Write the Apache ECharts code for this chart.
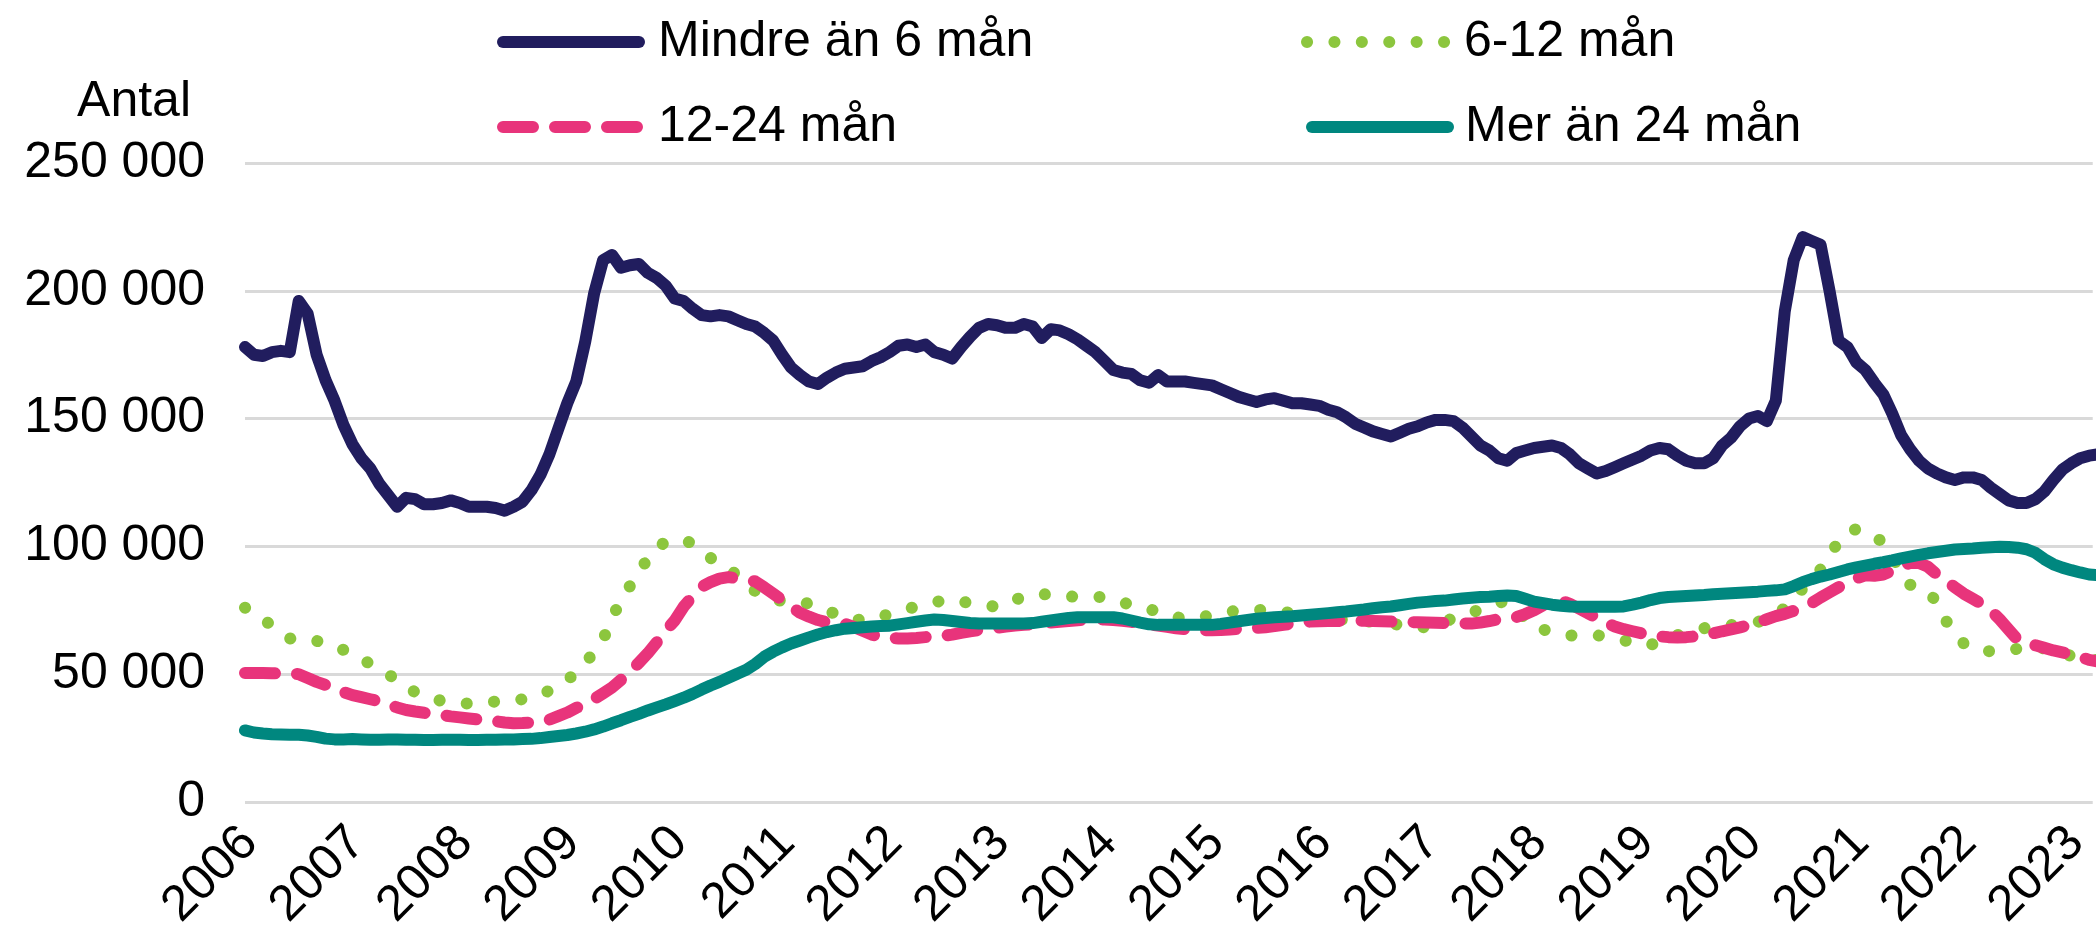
<!DOCTYPE html>
<html>
<head>
<meta charset="utf-8">
<script src="https://cdn.jsdelivr.net/npm/echarts@6/dist/echarts.min.js"></script>
<style>html,body{margin:0;padding:0;background:#fff}#c{width:2096px;height:948px}</style>
</head>
<body>
<div id="c"></div>
<script>
// ---- data (monthly, Jan 2006 .. Apr 2023) ----
const startYear = 2006;
const seriesNames = ['Mindre än 6 mån', '6-12 mån', '12-24 mån', 'Mer än 24 mån'];
const yTickValues = [0, 50000, 100000, 150000, 200000, 250000];
const yAxisTitle = 'Antal';

const mindre6 = [
178000,175000,174500,176000,176500,176000,196000,191000,175000,165000,157000,147500,
140000,134500,130500,124500,120000,115500,119000,118500,116500,116500,117000,118000,
117000,115500,115500,115500,115000,114000,115500,117500,122000,128000,136000,146000,
156000,164500,180000,199000,212000,214000,209000,210000,210500,207000,205000,202000,
197000,196000,193000,190500,190000,190500,190000,188500,187000,186000,183500,180500,
175000,170000,167000,164500,163500,166000,168000,169500,170000,170500,172500,174000,
176000,178500,179000,178000,179000,176000,175000,173500,178000,182000,185500,187000,
186500,185500,185500,187000,186000,181500,185000,184500,183000,181000,178500,176000,
172500,169000,168000,167500,165000,164000,167000,164500,164500,164500,164000,163500,
163000,161500,160000,158500,157500,156500,157500,158000,157000,156000,156000,155500,
155000,153500,152500,150500,148000,146500,145000,144000,143000,144500,146000,147000,
148500,149500,149500,149000,146500,143000,139500,137500,134500,133500,136500,137500,
138500,139000,139500,138500,136000,132500,130500,128500,129500,131000,132500,134000,
135500,137500,138500,138000,135500,133500,132500,132500,134500,139500,142500,147000,
150000,151000,149000,157000,192000,212000,221000,219500,218000,200000,180500,178000,
172000,169000,164000,159500,152000,143500,138000,133500,130500,128500,127000,126000,
127000,127000,126000,123000,120500,118000,117000,117000,118500,121500,126000,130000,
132500,134500,135500,136000
];
const man6_12 = [
76000,74000,71500,69000,66500,64000,63000,63000,63000,62500,61000,59500,
58000,56000,54000,52000,50000,47500,45000,43000,41500,40500,39500,39000,
38500,38500,38500,39000,39300,39500,39800,40200,41000,42300,43500,46000,
47500,51000,54500,58500,63500,72000,79000,84500,90500,95000,100000,101500,
102500,102700,101000,98000,95500,93500,91500,88500,85000,82500,80500,79000,
78800,78800,78500,77500,76000,75000,73500,72000,71400,71200,71400,72500,
73500,74400,75500,76500,77200,78000,79000,79200,78500,77800,77200,76800,
76400,77000,79000,80500,81000,81200,81300,81000,80500,80200,80200,80200,
80200,79500,78200,77000,76000,75300,74700,73500,72300,71800,72000,72500,
73000,73800,74500,74800,75000,75200,75000,74700,74300,74000,73500,73000,
72500,72000,71500,71200,71000,70700,70500,70200,69800,69300,68700,68200,
68500,69500,70500,72000,73000,74000,75500,77000,78000,78500,76000,71500,
68000,67500,66500,65800,65200,65000,65000,65200,64800,64000,63300,62300,
61200,61500,62500,64000,65300,66300,67200,68000,68700,69000,69200,69300,
69800,70500,71200,73000,76000,79500,83500,87500,91000,95500,102500,105500,
106800,106000,104000,101500,96000,90000,85000,83500,82500,78000,71000,65500,
62000,60000,59100,59000,59000,59100,60000,60700,61000,60000,59000,58000,
57200,56700,56000,55500
];
const man12_24 = [
50500,50500,50500,50400,50300,50200,50000,48500,47000,45800,44500,43000,
41800,41000,40200,39400,38200,37000,36000,35400,34900,34400,34000,33500,
33100,32700,32300,32000,31600,31100,30800,30900,31100,31400,32200,33600,
35000,36800,38500,40300,42500,44800,47800,50900,54500,58200,62500,67000,
71000,76400,80500,84200,86000,87400,88000,87500,87000,86300,84000,81500,
79000,76500,74000,72500,71200,70300,70000,69700,68500,67000,65500,64700,
64200,64000,64000,64200,64500,64800,65000,65500,66200,66800,67300,67800,
68200,68600,69000,69300,69600,69900,70200,70500,70800,71100,71300,71400,
71400,71200,70900,70500,70000,69500,69000,68500,68000,67600,67300,67200,
67200,67300,67500,67700,67900,68100,68400,68800,69300,69800,70200,70600,
70700,70800,70800,70900,70900,70900,70800,70700,70600,70500,70400,70300,
70200,70100,70000,69900,69800,69800,70200,70800,71500,72000,72300,73500,
75000,77000,78300,78800,77500,75700,73900,72000,70200,68700,67600,66800,
66000,65300,64800,64500,64400,64500,64800,65400,66000,66800,67500,68300,
69200,70300,71500,72700,73600,74800,76000,77800,80000,82000,84000,85800,
87500,88700,88500,89000,90500,92500,93500,93500,92000,89000,86500,84000,
81500,79500,77500,75000,71500,67500,63500,62000,61300,60300,59300,58500,
57700,56800,55600,55000
];
const mer24 = [
28000,27200,26800,26500,26400,26300,26300,26000,25500,24800,24500,24500,
24600,24500,24400,24400,24500,24500,24400,24400,24300,24300,24400,24400,
24400,24300,24300,24400,24400,24500,24500,24600,24700,25000,25400,25800,
26200,26800,27500,28400,29500,30800,32000,33300,34500,35800,37000,38200,
39500,40800,42300,44000,45600,47000,48600,50200,51700,54000,56800,58800,
60500,62000,63200,64400,65500,66500,67200,67800,68100,68400,68700,68900,
69000,69500,70000,70500,71000,71400,71200,70800,70400,70000,69800,69800,
69800,69800,69800,69800,70000,70500,71000,71500,72000,72300,72300,72300,
72300,72300,71800,71000,70200,69500,69300,69300,69300,69300,69300,69300,
69300,69700,70200,70700,71200,71700,72000,72300,72500,72700,73000,73300,
73600,73900,74200,74500,74900,75300,75800,76200,76500,77000,77500,78000,
78300,78600,78800,79200,79600,79900,80200,80300,80600,80800,80600,79500,
78400,77800,77200,76800,76500,76400,76400,76400,76400,76400,76500,77200,
78000,79000,79800,80200,80400,80600,80800,81000,81300,81500,81700,81900,
82100,82300,82600,82800,83200,84500,86000,87200,88200,89000,90000,91000,
91800,92500,93200,93800,94500,95300,96000,96700,97300,97800,98300,98800,
99000,99200,99500,99700,99900,99800,99500,98900,97500,95000,93000,91700,
90700,89800,89000,88700
];

// ---- chart ----
const FONT = '"Liberation Sans", Arial, sans-serif';
const FS = 50;
const colors = ['#211d5e', '#8cc63e', '#e8347b', '#00877f'];
const dashes = ['solid', [0.1, 27.3], [30, 22], 'solid'];
const widths = [12, 12, 12, 12];
const valuesList = [mindre6, man6_12, man12_24, mer24];

function toPairs(arr) {
  return arr.map((v, i) => [startYear + i / 12, v]);
}
function fmtThousands(v) {
  return String(v).replace(/\B(?=(\d{3})+(?!\d))/g, ' ');
}
function legendAt(k, left, cy, w, pad) {
  return {
    data: [seriesNames[k]], left: left, top: cy - 28, orient: 'horizontal',
    padding: 0, itemGap: 0, itemWidth: w, itemHeight: 20, selectedMode: false,
    itemStyle: { opacity: 0, color: 'rgba(0,0,0,0)', borderWidth: 0 },
    textStyle: { fontSize: FS, fontFamily: FONT, color: '#000', lineHeight: 56, padding: [0, 0, 0, pad] },
    lineStyle: { width: widths[k], color: colors[k], type: dashes[k], cap: 'round' }
  };
}

const chart = echarts.init(document.getElementById('c'), null, { renderer: 'canvas' });
chart.setOption({
  animation: false,
  backgroundColor: '#fff',
  grid: { left: 245, right: 0, top: 163, bottom: 146, containLabel: false },
  legend: [
    legendAt(0, 497, 42, 136, 14),
    legendAt(1, 1301, 42, 138, 14),
    legendAt(2, 497, 127, 136, 14),
    legendAt(3, 1306, 127, 136, 12)
  ],
  graphic: [{
    type: 'text', x: 191, y: 102,
    style: { text: yAxisTitle, fontSize: FS, fontFamily: FONT, fill: '#000', align: 'right', verticalAlign: 'middle' }
  }],
  xAxis: {
    type: 'value', min: startYear, max: 2023.2, interval: 1,
    axisLine: { show: false }, axisTick: { show: false }, splitLine: { show: false },
    axisLabel: {
      rotate: 45, margin: 38, fontSize: FS, fontFamily: FONT, color: '#000',
      padding: [0, -7, 0, 0],
      formatter: v => Math.abs(v - Math.round(v)) < 1e-6 ? String(Math.round(v)) : ''
    }
  },
  yAxis: {
    type: 'value', min: yTickValues[0], max: yTickValues[yTickValues.length - 1], interval: 50000,
    axisLine: { show: false }, axisTick: { show: false },
    splitLine: { show: true, lineStyle: { color: '#d9d9d9', width: 3 } },
    axisLabel: { margin: 40, fontSize: FS, fontFamily: FONT, color: '#000', formatter: v => fmtThousands(v) }
  },
  series: seriesNames.map((name, k) => ({
    name: name, type: 'line', data: toPairs(valuesList[k]),
    symbol: 'none', showSymbol: false, smooth: false, clip: true,
    color: colors[k],
    lineStyle: { color: colors[k], width: widths[k], type: dashes[k], cap: 'round', join: 'round' },
    z: 2 + k
  }))
});
</script>
</body>
</html>
